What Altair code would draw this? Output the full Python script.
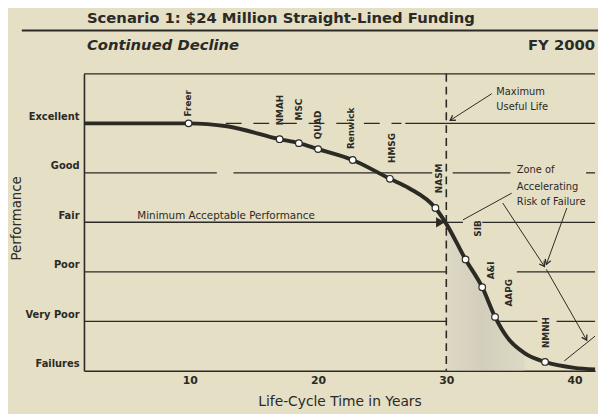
import math
import altair as alt
import pandas as pd

# ---------------- data ----------------
level_names = ["Failures", "Very Poor", "Poor", "Fair", "Good", "Excellent"]
x_ticks = [10, 20, 30, 40]

curve_year = [1.74, 9.9, 12.9, 17.0, 18.5, 20.0, 22.7, 25.6, 27.1, 29.15, 30.0,
              31.5, 32.8, 33.8, 34.8, 36.1, 37.7, 40.0, 41.6]
curve_perf = [5.0, 5.0, 4.94, 4.68, 4.60, 4.48, 4.26, 3.88, 3.69, 3.29, 2.97,
              2.25, 1.69, 1.09, 0.66, 0.36, 0.18, 0.06, 0.03]

bldg_name = ["Freer", "NMAH", "MSC", "QUAD", "Renwick", "HMSG", "NASM",
             "SIB", "A&I", "AAPG", "NMNH"]
bldg_year = [9.9, 17.0, 18.5, 20.0, 22.7, 25.6, 29.15, 31.5, 32.8, 33.8, 37.7]
bldg_perf = [5.0, 4.68, 4.60, 4.48, 4.26, 3.88, 3.29, 2.25, 1.69, 1.09, 0.18]
label_year = [9.85, 17.0, 18.5, 20.0, 22.6, 25.8, 29.4, 32.5, 33.5, 34.9, 37.8]
label_perf = [5.14, 4.96, 5.06, 4.68, 4.48, 4.20, 3.59, 2.71, 1.85, 1.30, 0.46]

# guide-line segments (level, from year, to year, dashed?)
seg_level = [5, 5, 4, 4, 4, 4, 3, 3, 2, 2, 1, 1, 1, 6]
seg_from = [12.8, 26.8, 1.74, 13.4, 30.5, 40.9, 30.0, 32.8, 1.74, 35.5, 1.74, 34.1, 38.6, 1.74]
seg_to = [26.5, 41.6, 12.1, 28.9, 35.0, 41.6, 31.3, 41.6, 30.0, 41.6, 30.0, 37.1, 41.6, 41.6]
seg_dash = [True, False, False, False, False, False, False, False, False, False,
            False, False, False, False]

min_perf_level = 3
useful_life_year = 30

# annotation arrows (from -> to) in data units
arrow_x = [33.55, 34.4, 39.4, 37.8]
arrow_y = [5.60, 3.39, 3.29, 2.05]
arrow_x2 = [30.3, 37.65, 37.8, 40.95]
arrow_y2 = [5.06, 2.11, 2.15, 0.62]
plain_x = [35.1, 39.2]
plain_y = [3.59, 0.20]
plain_x2 = [31.3, 41.6]
plain_y2 = [3.05, 0.70]

note_text = ["Maximum", "Useful Life", "Zone of", "Accelerating", "Risk of Failure"]
note_year = [33.9, 33.9, 35.5, 35.5, 35.5]
note_perf = [5.63, 5.33, 4.05, 3.71, 3.41]

# ---------------- styling ----------------
INK = "#2b2a25"
BG = "#e4dfc5"
FONT = "DejaVu Sans"
X0, X1 = 1.74, 41.6
W, H = 518, 301
PX_Y = W / (X1 - X0)
PX_P = H / 6.0

xs = alt.Scale(domain=[X0, X1], nice=False, zero=False)
ys = alt.Scale(domain=[0, 6], nice=False, zero=False)

label_expr = "[" + ",".join("'%s'" % n for n in level_names) + "][datum.value]"
XAXIS = alt.Axis(values=x_ticks, title="Life-Cycle Time in Years", grid=False, ticks=False,
                 domain=True, domainColor=INK, domainWidth=1.6, labelFont=FONT,
                 labelFontSize=11, labelFontWeight="bold", labelColor=INK, labelPadding=4,
                 titleFont=FONT, titleFontSize=14, titleFontWeight="normal", titleColor=INK,
                 titleX=259, titleY=31, titleBaseline="middle", titleAnchor="middle")
YAXIS = alt.Axis(values=[0, 1, 2, 3, 4, 5], labelExpr=label_expr, title="Performance",
                 grid=False, ticks=False, domain=True, domainColor=INK, domainWidth=1.6,
                 labelFont=FONT, labelFontSize=10, labelFontWeight="bold", labelColor=INK,
                 labelPadding=5, labelBaseline="alphabetic", labelOffset=-4,
                 titleFont=FONT, titleFontSize=13.5, titleFontWeight="normal", titleColor=INK,
                 titleX=-68, titleY=146, titleBaseline="middle", titleAngle=270)


def X(f):
    return alt.X(f, type="quantitative", scale=xs, axis=XAXIS)


def Y(f):
    return alt.Y(f, type="quantitative", scale=ys, axis=YAXIS)


curve_df = pd.DataFrame({"year": curve_year, "perf": curve_perf})
bldg_df = pd.DataFrame({"name": bldg_name, "year": bldg_year, "perf": bldg_perf})
lab_df = pd.DataFrame({"name": bldg_name, "year": label_year, "perf": label_perf})
seg_df = pd.DataFrame({"perf": seg_level, "year": seg_from, "year2": seg_to, "dash": seg_dash})

arr_df = pd.DataFrame({"year": arrow_x, "perf": arrow_y, "year2": arrow_x2, "perf2": arrow_y2})
arr_df["ang"] = [
    (math.degrees(math.atan2((x2 - x1) * PX_Y, (y2 - y1) * PX_P)) + 360) % 360
    for x1, y1, x2, y2 in zip(arrow_x, arrow_y, arrow_x2, arrow_y2)
]
plain_df = pd.DataFrame({"year": plain_x, "perf": plain_y, "year2": plain_x2, "perf2": plain_y2})
note_df = pd.DataFrame({"t": note_text, "year": note_year, "perf": note_perf})

layers = []

# shaded zone left of the curve after useful life
shade = alt.Chart(curve_df).transform_filter(
    (alt.datum.year >= useful_life_year) & (alt.datum.year <= 36.1)
).mark_area(interpolate="monotone", opacity=0.55,
            color=alt.Gradient(gradient="linear", x1=0, y1=0, x2=1, y2=0,
                               stops=[alt.GradientStop(color="#d8d4c2", offset=0),
                                      alt.GradientStop(color="#c4c1b4", offset=0.45),
                                      alt.GradientStop(color="#d6d3c3", offset=1)])).encode(
    x=X("year"), y=Y("perf"), y2=alt.value(H))
layers.append(shade)

# guide lines
solid = alt.Chart(seg_df).transform_filter("!datum.dash").mark_rule(
    color=INK, strokeWidth=1.3).encode(x=X("year"), x2="year2", y=Y("perf"))
dashed = alt.Chart(seg_df).transform_filter("datum.dash").mark_rule(
    color=INK, strokeWidth=1.3, strokeDash=[16, 12]).encode(x=X("year"), x2="year2", y=Y("perf"))
layers += [solid, dashed]

# minimum acceptable performance arrow
minline = alt.Chart(pd.DataFrame({"perf": [min_perf_level]})).mark_rule(
    color=INK, strokeWidth=1.5).encode(x=alt.value(0), x2=alt.value((29.4 - X0) * PX_Y), y=Y("perf"))
minhead = alt.Chart(pd.DataFrame({"year": [29.55], "perf": [min_perf_level]})).mark_point(
    shape="triangle-right", filled=True, color=INK, opacity=1, size=110).encode(x=X("year"), y=Y("perf"))
mintext = alt.Chart(pd.DataFrame({"t": ["Minimum Acceptable Performance"], "year": [5.9],
                                  "perf": [min_perf_level]})).mark_text(
    align="left", baseline="alphabetic", dy=-3, font=FONT, fontSize=10.5, color=INK).encode(
    x=X("year"), y=Y("perf"), text="t:N")
layers += [minline, minhead, mintext]

# maximum useful life dashed vertical
vline = alt.Chart(pd.DataFrame({"year": [useful_life_year]})).mark_rule(
    color=INK, strokeWidth=1.6, strokeDash=[8, 5]).encode(x=X("year"), y=alt.value(0), y2=alt.value(H))
layers.append(vline)

# annotation lines and arrows
arr = alt.Chart(arr_df).mark_rule(color=INK, strokeWidth=1).encode(
    x=X("year"), x2="year2", y=Y("perf"), y2="perf2")
heads = alt.Chart(arr_df).mark_point(
    shape="M -0.55 0.9 L 0 0 L 0.55 0.9", filled=False, color=INK, strokeWidth=1.3,
    opacity=1, size=120).encode(x=alt.X("year2:Q", scale=xs, axis=XAXIS),
                                y=alt.Y("perf2:Q", scale=ys, axis=YAXIS),
                                angle=alt.Angle("ang:Q", scale=None))
plain = alt.Chart(plain_df).mark_rule(color=INK, strokeWidth=1).encode(
    x=X("year"), x2="year2", y=Y("perf"), y2="perf2")
notes = alt.Chart(note_df).mark_text(align="left", baseline="middle", font=FONT,
                                     fontSize=10, color=INK).encode(
    x=X("year"), y=Y("perf"), text="t:N")
layers += [arr, heads, plain, notes]

# curve and buildings
curve = alt.Chart(curve_df).mark_line(interpolate="monotone", color=INK, strokeWidth=4).encode(
    x=X("year"), y=Y("perf"))
pts = alt.Chart(bldg_df).mark_point(shape="circle", filled=True, fill="white", stroke=INK,
                                    strokeWidth=1.2, opacity=1, size=45).encode(
    x=X("year"), y=Y("perf"))
labs = alt.Chart(lab_df).mark_text(angle=270, align="left", baseline="middle", font=FONT,
                                   fontSize=9, fontWeight="bold", color=INK).encode(
    x=X("year"), y=Y("perf"), text="name:N")
layers += [curve, pts, labs]

# header texts
title_df = pd.DataFrame({"t": ["Scenario 1: $24 Million Straight-Lined Funding"]})
sub_df = pd.DataFrame({"t": ["Continued Decline"]})
fy_df = pd.DataFrame({"t": ["FY 2000"]})
title = alt.Chart(title_df).mark_text(align="left", baseline="middle", font=FONT, fontSize=15,
                                      fontWeight="bold", color=INK).encode(
    x=alt.value(3), y=alt.value(-57), text="t:N")
sep = alt.Chart(title_df).mark_rule(color=INK, strokeWidth=2).encode(
    x=alt.value(-63), x2=alt.value(W + 3), y=alt.value(-44))
sub = alt.Chart(sub_df).mark_text(align="left", baseline="middle", font=FONT, fontSize=15,
                                  fontWeight="bold", fontStyle="italic", color=INK).encode(
    x=alt.value(3), y=alt.value(-29), text="t:N")
fy = alt.Chart(fy_df).mark_text(align="right", baseline="middle", font=FONT, fontSize=15,
                                fontWeight="bold", color=INK).encode(
    x=alt.value(W), y=alt.value(-29), text="t:N")
layers += [title, sep, sub, fy]

chart = alt.layer(*layers).properties(
    width=W, height=H, background=BG,
    autosize=alt.AutoSizeParams(type="none"),
    padding={"left": 77, "top": 64, "right": 3, "bottom": 41},
).configure_view(stroke=None).configure_axis(labelFontSize=10)

chart.save("out.html", embed_options={"renderer": "svg", "actions": False})
